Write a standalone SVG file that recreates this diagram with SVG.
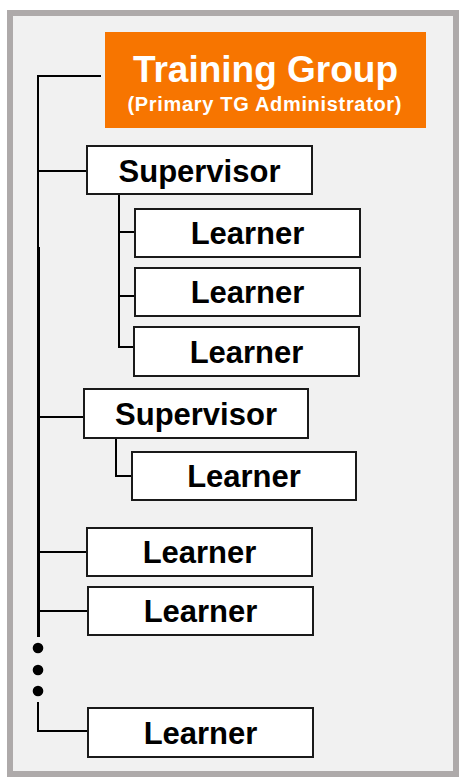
<svg xmlns="http://www.w3.org/2000/svg" width="461" height="779" viewBox="0 0 461 779">
<style>
.box{fill:#ffffff;stroke:#1a1a1a;stroke-width:2}
.lbl{font-family:"Liberation Sans",Arial,sans-serif;font-weight:bold;font-size:31px;fill:#000;text-anchor:middle}
.ln{fill:none;stroke:#000;stroke-width:2}
</style>
<rect x="10" y="13" width="446" height="761" fill="#f1f1f1" stroke="#aeaaaa" stroke-width="6"/>
<g id="connectors">
<path class="ln" d="M101 76 H38 V637"/>
<path class="ln" d="M39 247 V637"/>
<path class="ln" d="M38 171 H87"/>
<path class="ln" d="M119 194 V347 H134"/>
<path class="ln" d="M119 232 H135"/>
<path class="ln" d="M119 296 H135"/>
<path class="ln" d="M38 417 H84"/>
<path class="ln" d="M116 438 V476 H132"/>
<path class="ln" d="M38 552 H87"/>
<path class="ln" d="M38 611 H88"/>
<path class="ln" d="M38 702 V731 H88"/>
<circle cx="38" cy="648" r="5.3" fill="#000"/>
<circle cx="38" cy="670" r="5.3" fill="#000"/>
<circle cx="38" cy="691" r="5.3" fill="#000"/>
</g>
<g id="training-group">
<rect x="105" y="32" width="321" height="96" fill="#f77500"/>
<text x="265.5" y="81.5" font-family="'Liberation Sans',Arial,sans-serif" font-weight="bold" font-size="37" fill="#fff" text-anchor="middle">Training Group</text>
<text x="264.5" y="110.5" font-family="'Liberation Sans',Arial,sans-serif" font-weight="bold" font-size="20" fill="#fff" text-anchor="middle" textLength="274" lengthAdjust="spacing">(Primary TG Administrator)</text>
</g>
<g id="supervisor-1"><rect class="box" x="87" y="146" width="225" height="48"/><text class="lbl" x="199.5" y="182">Supervisor</text></g>
<g id="learner-1a"><rect class="box" x="135" y="209" width="225" height="48"/><text class="lbl" x="247.5" y="244">Learner</text></g>
<g id="learner-1b"><rect class="box" x="135" y="268" width="225" height="48"/><text class="lbl" x="247.5" y="303">Learner</text></g>
<g id="learner-1c"><rect class="box" x="134" y="327" width="225" height="49"/><text class="lbl" x="246.5" y="362.5">Learner</text></g>
<g id="supervisor-2"><rect class="box" x="84" y="389" width="224" height="49"/><text class="lbl" x="196" y="424.5">Supervisor</text></g>
<g id="learner-2a"><rect class="box" x="132" y="452" width="224" height="48"/><text class="lbl" x="244" y="487">Learner</text></g>
<g id="learner-3"><rect class="box" x="87" y="528" width="225" height="48"/><text class="lbl" x="199.5" y="563">Learner</text></g>
<g id="learner-4"><rect class="box" x="88" y="587" width="225" height="48"/><text class="lbl" x="200.5" y="622">Learner</text></g>
<g id="learner-5"><rect class="box" x="88" y="708" width="225" height="49"/><text class="lbl" x="200.5" y="743.5">Learner</text></g>
</svg>
